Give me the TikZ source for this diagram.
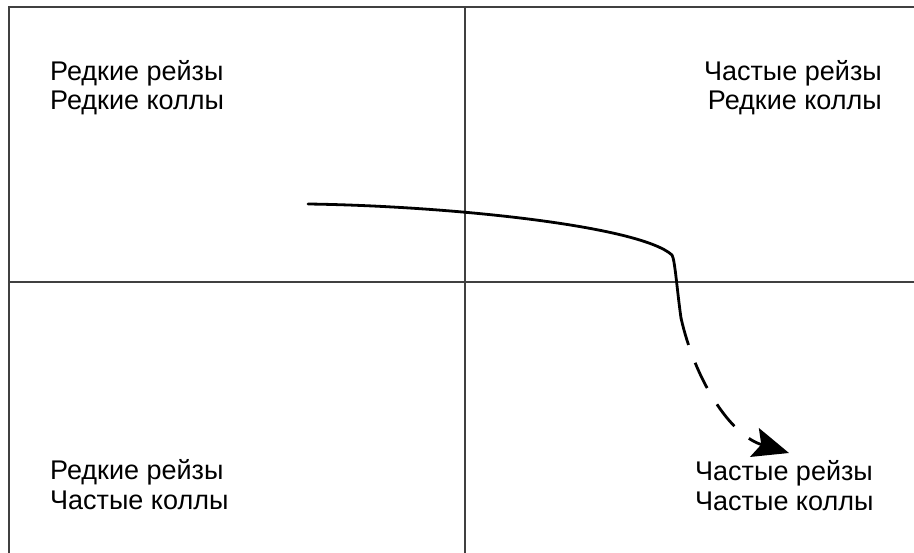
\documentclass[tikz,border=0pt]{standalone}
\usepackage{fontspec}
\setmainfont{Liberation Sans}
\usetikzlibrary{arrows.meta}
\begin{document}
\begin{tikzpicture}[x=1pt,y=-1pt,
  frame/.style={draw=black!75,line width=1.6pt},
  lbl/.style={inner sep=0pt,font=\fontsize{27}{30}\selectfont},
  path/.style={line width=2.8pt,line cap=round,line join=round},
  dashpath/.style={path,line cap=butt,dash pattern=on 28pt off 19pt}]
\useasboundingbox (0,0) rectangle (914,553);
\fill[white] (0,0) rectangle (914,553);
% frame and dividers
\coordinate (tl) at (9,7);
\coordinate (tr) at (914,7);
\coordinate (bl) at (9,553);
\coordinate (vt) at (465,7);
\coordinate (vb) at (465,553);
\coordinate (hl) at (9,282);
\coordinate (hr) at (914,282);
\draw[frame] (tr) -- (tl) -- (bl);
\draw[frame] (vt) -- (vb);
\draw[frame] (hl) -- (hr);
% labels
\node[lbl,anchor=base west] (a1) at (50,81) {Редкие рейзы};
\node[lbl,anchor=base west] (a2) at (50,110) {Редкие коллы};
\node[lbl,anchor=base east] (b1) at (882,81) {Частые рейзы};
\node[lbl,anchor=base east] (b2) at (882,110) {Редкие коллы};
\node[lbl,anchor=base west] (c1) at (50,480) {Редкие рейзы};
\node[lbl,anchor=base west] (c2) at (50,510) {Частые коллы};
\node[lbl,anchor=base west] (d1) at (695,481) {Частые рейзы};
\node[lbl,anchor=base west] (d2) at (695,511) {Частые коллы};
% trajectory
\coordinate (s) at (308,204);
\coordinate (k) at (672,255);
\coordinate (m) at (681,318);
\coordinate (e) at (789,453);
\draw[path] (s) .. controls (450,206) and (640,226) .. (k)
  .. controls (675,260) and (677,290) .. (m);
\draw[dashpath,-{Stealth[length=36pt,width=30pt,inset=7pt]}] (m) .. controls (695,380) and (730,435) .. (e);
\end{tikzpicture}
\end{document}
